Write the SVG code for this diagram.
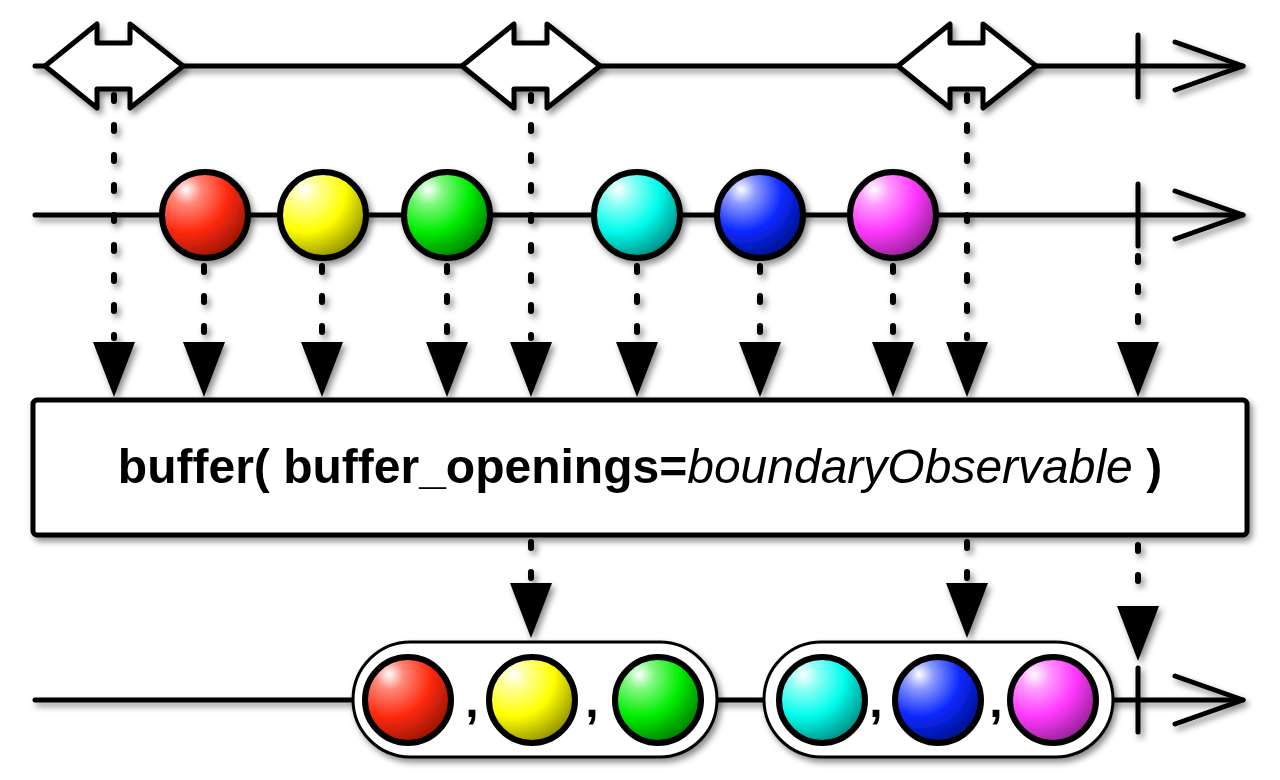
<svg xmlns="http://www.w3.org/2000/svg" width="1280" height="780" viewBox="0 0 1280 780">
<defs>
<style>
.ln{stroke:#000;stroke-width:5;fill:none;stroke-linecap:round;stroke-linejoin:round}
.dash{stroke:#000;stroke-width:6;fill:none;stroke-linecap:round;stroke-dasharray:6 24}
.mb{stroke:#000;stroke-width:6}
.txt{font-family:"Liberation Sans",Arial,sans-serif;font-size:48px;fill:#000}
.b{font-weight:bold}
.i{font-style:italic}
</style>
<filter id="sh" x="-20%" y="-20%" width="140%" height="150%">
<feDropShadow dx="3" dy="4" stdDeviation="3" flood-color="#000" flood-opacity="0.45"/>
</filter>
<path id="ah" d="M-21,0 L21,0 L0,55 Z" fill="#000"/>
<polygon id="dia" points="-69,0 -17,-42 -17,-23 16,-23 16,-42 69,0 16,42 16,23 -17,23 -17,42" fill="#fff" stroke="#000" stroke-width="5" stroke-linejoin="round"/>
<radialGradient id="gR" cx="0.3" cy="0.25" r="0.85" fx="0.28" fy="0.2"><stop offset="0" stop-color="#fff"/><stop offset="0.2" stop-color="#ff8878"/><stop offset="0.55" stop-color="#ff2a10"/><stop offset="1" stop-color="#8a1200"/></radialGradient>
<radialGradient id="gY" cx="0.3" cy="0.25" r="0.85" fx="0.28" fy="0.2"><stop offset="0" stop-color="#fff"/><stop offset="0.2" stop-color="#ffff90"/><stop offset="0.55" stop-color="#ffff00"/><stop offset="1" stop-color="#808000"/></radialGradient>
<radialGradient id="gG" cx="0.3" cy="0.25" r="0.85" fx="0.28" fy="0.2"><stop offset="0" stop-color="#fff"/><stop offset="0.2" stop-color="#80f880"/><stop offset="0.55" stop-color="#00ee00"/><stop offset="1" stop-color="#006e00"/></radialGradient>
<radialGradient id="gC" cx="0.3" cy="0.25" r="0.85" fx="0.28" fy="0.2"><stop offset="0" stop-color="#fff"/><stop offset="0.2" stop-color="#90fff6"/><stop offset="0.55" stop-color="#00fcec"/><stop offset="1" stop-color="#007d76"/></radialGradient>
<radialGradient id="gB" cx="0.3" cy="0.25" r="0.85" fx="0.28" fy="0.2"><stop offset="0" stop-color="#fff"/><stop offset="0.2" stop-color="#8a98ff"/><stop offset="0.55" stop-color="#0a28ff"/><stop offset="1" stop-color="#000e78"/></radialGradient>
<radialGradient id="gM" cx="0.3" cy="0.25" r="0.85" fx="0.28" fy="0.2"><stop offset="0" stop-color="#fff"/><stop offset="0.2" stop-color="#ff9cff"/><stop offset="0.55" stop-color="#ff38ff"/><stop offset="1" stop-color="#861e86"/></radialGradient>
</defs>
<rect width="1280" height="780" fill="#fff"/>

<g id="timelines" filter="url(#sh)">
<g id="boundary-line">
<line class="ln" x1="35" y1="66" x2="1243" y2="66"/>
<line class="ln" x1="1138" y1="35" x2="1138" y2="97"/>
<polyline class="ln" points="1175,42 1243,66 1175,90" stroke-width="6"/>
</g>
<g id="source-line">
<line class="ln" x1="35" y1="215" x2="1243" y2="215"/>
<line class="ln" x1="1138" y1="184" x2="1138" y2="246"/>
<polyline class="ln" points="1175,191 1243,215 1175,239" stroke-width="6"/>
</g>
<g id="output-line">
<line class="ln" x1="35" y1="700" x2="1243" y2="700"/>
<line class="ln" x1="1138" y1="668" x2="1138" y2="732"/>
<polyline class="ln" points="1175,676 1243,700 1175,724" stroke-width="6"/>
</g>
</g>

<g id="connectors" filter="url(#sh)">
<line class="dash" x1="114" y1="95" x2="114" y2="338"/><use href="#ah" x="114" y="342"/>
<line class="dash" x1="531" y1="95" x2="531" y2="338"/><use href="#ah" x="531" y="342"/>
<line class="dash" x1="967" y1="95" x2="967" y2="338"/><use href="#ah" x="967" y="342"/>
<line class="dash" x1="204" y1="266" x2="204" y2="338"/><use href="#ah" x="204" y="342"/>
<line class="dash" x1="322" y1="266" x2="322" y2="338"/><use href="#ah" x="322" y="342"/>
<line class="dash" x1="447" y1="266" x2="447" y2="338"/><use href="#ah" x="447" y="342"/>
<line class="dash" x1="637" y1="266" x2="637" y2="338"/><use href="#ah" x="637" y="342"/>
<line class="dash" x1="760" y1="266" x2="760" y2="338"/><use href="#ah" x="760" y="342"/>
<line class="dash" x1="893" y1="266" x2="893" y2="338"/><use href="#ah" x="893" y="342"/>
<line class="dash" x1="1138" y1="256" x2="1138" y2="338"/><use href="#ah" x="1138" y="342"/>
<line class="dash" x1="531" y1="542" x2="531" y2="578"/><use href="#ah" x="531" y="583"/>
<line class="dash" x1="967" y1="542" x2="967" y2="578"/><use href="#ah" x="967" y="583"/>
<line class="dash" x1="1138" y1="545" x2="1138" y2="602"/><use href="#ah" x="1138" y="606"/>
</g>

<g id="boundary-events" filter="url(#sh)">
<g id="open1"><use href="#dia" x="114" y="66"/></g>
<g id="open2"><use href="#dia" x="531" y="66"/></g>
<g id="open3"><use href="#dia" x="967" y="66"/></g>
</g>

<g id="source-events" filter="url(#sh)">
<g id="red"><circle class="mb" cx="205" cy="215" r="43" fill="url(#gR)"/></g>
<g id="yellow"><circle class="mb" cx="323" cy="215" r="43" fill="url(#gY)"/></g>
<g id="green"><circle class="mb" cx="447" cy="215" r="43" fill="url(#gG)"/></g>
<g id="cyan"><circle class="mb" cx="637" cy="215" r="43" fill="url(#gC)"/></g>
<g id="blue"><circle class="mb" cx="760" cy="215" r="43" fill="url(#gB)"/></g>
<g id="magenta"><circle class="mb" cx="893" cy="215" r="43" fill="url(#gM)"/></g>
</g>

<g id="operator" filter="url(#sh)">
<rect x="33" y="400" width="1214" height="135" rx="4" fill="#fff" stroke="#000" stroke-width="5"/>
<text class="txt" x="640" y="483" text-anchor="middle"><tspan class="b">buffer( buffer_openings=</tspan><tspan class="i">boundaryObservable</tspan><tspan class="b"> )</tspan></text>
</g>

<g id="buffer1" filter="url(#sh)">
<rect x="353" y="642" width="364" height="115" rx="57.5" fill="#fff" stroke="#000" stroke-width="3"/>
<circle class="mb" cx="408" cy="700" r="43" fill="url(#gR)"/>
<circle class="mb" cx="532" cy="700" r="43" fill="url(#gY)"/>
<circle class="mb" cx="658" cy="700" r="43" fill="url(#gG)"/>
<text class="txt b" x="472" y="717" text-anchor="middle">,</text>
<text class="txt b" x="592" y="717" text-anchor="middle">,</text>
</g>

<g id="buffer2" filter="url(#sh)">
<rect x="764" y="642" width="349" height="115" rx="57.5" fill="#fff" stroke="#000" stroke-width="3"/>
<circle class="mb" cx="822" cy="700" r="43" fill="url(#gC)"/>
<circle class="mb" cx="938" cy="700" r="43" fill="url(#gB)"/>
<circle class="mb" cx="1053" cy="700" r="43" fill="url(#gM)"/>
<text class="txt b" x="876" y="717" text-anchor="middle">,</text>
<text class="txt b" x="996" y="717" text-anchor="middle">,</text>
</g>
</svg>
